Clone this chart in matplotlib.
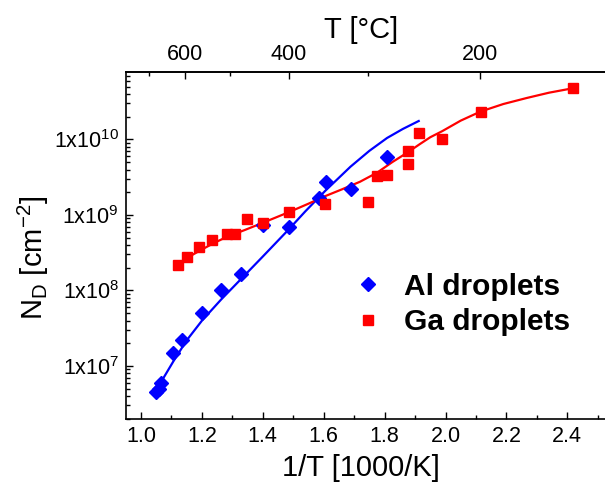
import numpy as np
import matplotlib
matplotlib.use("Agg")
import matplotlib.pyplot as plt
from matplotlib.ticker import FixedLocator, FuncFormatter, LogLocator, NullFormatter, MultipleLocator

plt.rcParams["font.family"] = ["Liberation Sans", "DejaVu Sans"]
plt.rcParams["mathtext.fontset"] = "custom"
plt.rcParams["mathtext.rm"] = "Liberation Sans"
plt.rcParams["mathtext.it"] = "Liberation Sans:italic"
plt.rcParams["mathtext.bf"] = "Liberation Sans:bold"

# Defect density vs inverse temperature (measured points)
al_x = [1.050, 1.058, 1.066, 1.106, 1.134, 1.201, 1.263, 1.328, 1.402, 1.485,
        1.583, 1.606, 1.688, 1.808]
al_n = [4.5e6, 5.0e6, 6.0e6, 1.5e7, 2.2e7, 5.0e7, 1.0e8, 1.66e8, 7.3e8, 7.0e8,
        1.7e9, 2.7e9, 2.2e9, 5.9e9]

ga_x = [1.122, 1.150, 1.189, 1.232, 1.282, 1.310, 1.347, 1.402, 1.487, 1.605,
        1.746, 1.775, 1.808, 1.876, 1.876, 1.913, 1.989, 2.115, 2.420]
ga_n = [2.15e8, 2.75e8, 3.8e8, 4.6e8, 5.6e8, 5.6e8, 8.8e8, 7.8e8, 1.1e9, 1.4e9,
        1.5e9, 3.3e9, 3.4e9, 4.7e9, 7.1e9, 1.23e10, 1.0e10, 2.33e10, 4.85e10]

# Fit curves (log10 of density)
al_fit_x = [1.045, 1.075, 1.106, 1.150, 1.200, 1.263, 1.328, 1.400, 1.483, 1.540,
            1.605, 1.688, 1.750, 1.808, 1.860, 1.912]
al_fit_log = [6.63, 6.85, 7.06, 7.34, 7.60, 7.88, 8.15, 8.45, 8.80, 9.05,
              9.32, 9.64, 9.85, 10.02, 10.14, 10.245]

ga_fit_x = [1.119, 1.155, 1.194, 1.240, 1.282, 1.340, 1.402, 1.487, 1.550, 1.605,
            1.660, 1.719, 1.775, 1.825, 1.876, 1.916, 1.950, 1.989, 2.050, 2.115,
            2.190, 2.267, 2.340, 2.420]
ga_fit_log = [8.34, 8.44, 8.53, 8.63, 8.71, 8.80, 8.90, 9.04, 9.15, 9.25,
              9.34, 9.44, 9.56, 9.70, 9.83, 9.94, 10.03, 10.11, 10.25, 10.37,
              10.47, 10.55, 10.62, 10.68]

temp_major_c = [600, 400, 200]
temp_minor_c = [700, 500, 300]

fig = plt.figure(figsize=(6.05, 4.82), dpi=100)
ax = fig.add_axes([126 / 605, 63 / 482, 479 / 605, 347.3 / 482])

ax.plot(al_fit_x, 10 ** np.asarray(al_fit_log), color="#0000ff", lw=1.6,
        zorder=2, solid_joinstyle="round")
ax.plot(ga_fit_x, 10 ** np.asarray(ga_fit_log), color="#ff0000", lw=1.6,
        zorder=2, solid_joinstyle="round")

ax.plot(al_x, al_n, ls="none", marker="D", ms=7.2, color="#0000ff",
        mec="#0000ff", label="Al droplets", zorder=3)
ax.plot(ga_x, ga_n, ls="none", marker="s", ms=7.0, color="#ff0000",
        mec="#ff0000", label="Ga droplets", zorder=4)

ax.set_yscale("log")
ax.set_xlim(0.9507, 2.5238)
ax.set_ylim(10 ** 6.298, 10 ** 10.898)

ax.xaxis.set_major_locator(MultipleLocator(0.2))
ax.xaxis.set_minor_locator(MultipleLocator(0.1))
ax.xaxis.set_major_formatter(FuncFormatter(lambda v, p: f"{v:.1f}"))

ax.yaxis.set_major_locator(LogLocator(base=10, numticks=20))
ax.yaxis.set_minor_locator(LogLocator(base=10, subs=np.arange(2, 10), numticks=20))
ax.yaxis.set_minor_formatter(NullFormatter())
ax.yaxis.set_major_formatter(
    FuncFormatter(lambda v, p: r"1x10$^{%d}$" % int(round(np.log10(v)))))

ax.tick_params(axis="both", which="major", direction="in", length=5, width=1,
               labelsize=15.5, pad=5)
ax.tick_params(axis="both", which="minor", direction="in", length=3, width=1)
ax.tick_params(axis="x", which="both", top=False)
ax.tick_params(axis="y", which="both", right=False)

ax.spines["right"].set_visible(False)
for s in ("left", "bottom", "top"):
    ax.spines[s].set_linewidth(1.2)

ax.set_xlabel("1/T [1000/K]", fontsize=21, va="baseline")
ax.xaxis.set_label_coords((361 - 126) / 479, (419 - 476) / 347.3)
ax.set_ylabel(r"N$_\mathrm{D}$ [cm$^{-2}$]", fontsize=21, va="center")
ax.yaxis.set_label_coords((33 - 126) / 479, (419 - 258) / 347.3)

# Temperature scale in degrees Celsius along the top
def c_to_inv(t):
    return 1000.0 / (np.asarray(t, dtype=float) + 273.15)

def inv_to_c(x):
    return 1000.0 / np.asarray(x, dtype=float) - 273.15

top = ax.secondary_xaxis("top", functions=(inv_to_c, c_to_inv))
top.xaxis.set_major_locator(FixedLocator(temp_major_c))
top.xaxis.set_minor_locator(FixedLocator(temp_minor_c))
top.xaxis.set_major_formatter(FuncFormatter(lambda v, p: f"{v:.0f}"))
top.tick_params(which="major", direction="in", length=5, width=1,
                labelsize=15.5, pad=5)
top.tick_params(which="minor", direction="in", length=3, width=1)
top.spines["top"].set_linewidth(1.2)

# Title of the top temperature scale
ax.text((361 - 126) / 479, 1 + (71.7 - 38) / 347.3, "T [°C]", fontsize=21,
        ha="center", va="baseline", transform=ax.transAxes)

leg = ax.legend(loc="center left",
                bbox_to_anchor=((353.4 - 126) / 479, (419 - 304.5) / 347.3),
                frameon=False, handlelength=1.0, handletextpad=0.7,
                borderaxespad=0, borderpad=0, labelspacing=0.25,
                prop={"weight": "bold", "size": 21.5})

fig.savefig("out.png", dpi=100)
